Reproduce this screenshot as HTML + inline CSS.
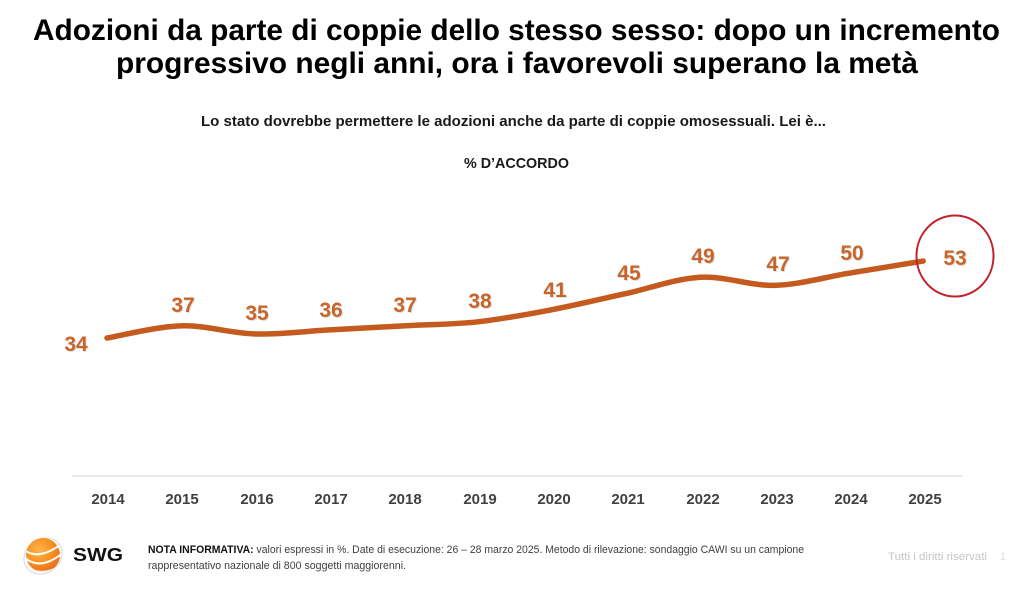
<!DOCTYPE html>
<html>
<head>
<meta charset="utf-8">
<style>
  html, body { margin:0; padding:0; background:#ffffff; }
  body { width:1024px; height:592px; overflow:hidden; }
  svg { display:block; }
  text { font-family: "Liberation Sans", Arial, sans-serif; }
</style>
</head>
<body>
<svg width="1024" height="592" viewBox="0 0 1024 592" xmlns="http://www.w3.org/2000/svg">
  <defs>
    <radialGradient id="orb" cx="0.38" cy="0.35" r="0.75">
      <stop offset="0" stop-color="#FDB44B"/>
      <stop offset="0.55" stop-color="#F7901E"/>
      <stop offset="1" stop-color="#E4641A"/>
    </radialGradient>
    <clipPath id="orbclip"><circle cx="43" cy="555" r="17"/></clipPath>
  </defs>

  <!-- Title -->
  <text x="33" y="40" font-size="30" font-weight="bold" fill="#000" textLength="967" lengthAdjust="spacingAndGlyphs">Adozioni da parte di coppie dello stesso sesso: dopo un incremento</text>
  <text x="116" y="73" font-size="30" font-weight="bold" fill="#000" textLength="802" lengthAdjust="spacingAndGlyphs">progressivo negli anni, ora i favorevoli superano la metà</text>

  <!-- Subtitle -->
  <text x="201" y="126" font-size="15" font-weight="bold" fill="#1a1a1a" textLength="625" lengthAdjust="spacingAndGlyphs">Lo stato dovrebbe permettere le adozioni anche da parte di coppie omosessuali. Lei è...</text>
  <text x="464" y="168" font-size="15" font-weight="bold" fill="#1a1a1a" textLength="105" lengthAdjust="spacingAndGlyphs">% D’ACCORDO</text>

  <!-- Axis line -->
  <line x1="72" y1="476" x2="963" y2="476" stroke="#dcdcdc" stroke-width="1.2"/>

  <!-- Year labels -->
  <g font-size="15" font-weight="bold" fill="#404040" text-anchor="middle">
    <text x="108" y="504">2014</text>
    <text x="182" y="504">2015</text>
    <text x="257" y="504">2016</text>
    <text x="331" y="504">2017</text>
    <text x="405" y="504">2018</text>
    <text x="480" y="504">2019</text>
    <text x="554" y="504">2020</text>
    <text x="628" y="504">2021</text>
    <text x="703" y="504">2022</text>
    <text x="777" y="504">2023</text>
    <text x="851" y="504">2024</text>
    <text x="925" y="504">2025</text>
  </g>

  <!-- Series line -->
  <path d="M107,338 C119.37,335.975 156.47,326.525 181.2,325.85 C205.93,325.175 230.67,333.275 255.4,333.95 C280.13,334.625 304.87,331.25 329.6,329.9 C354.33,328.55 379.07,327.2 403.8,325.85 C428.53,324.5 453.27,324.5 478,321.8 C502.73,319.1 527.47,314.375 552.2,309.65 C576.93,304.925 601.67,298.85 626.4,293.45 C651.13,288.05 675.87,278.6 700.6,277.25 C725.33,275.9 750.07,286.025 774.8,285.35 C799.53,284.675 824.27,277.25 849,273.2 C873.73,269.15 910.83,263.075 923.2,261.05"
        fill="none" stroke="#C55A1E" stroke-width="5.5" stroke-linecap="round" stroke-linejoin="round"/>

  <!-- Data labels (shadow) -->
  <g font-size="21" font-weight="bold" fill="#c9c9c9" text-anchor="middle" opacity="0.6">
    <text x="77" y="352">34</text>
    <text x="184" y="313">37</text>
    <text x="258" y="321">35</text>
    <text x="332" y="318">36</text>
    <text x="406" y="313">37</text>
    <text x="481" y="309">38</text>
    <text x="556" y="298">41</text>
    <text x="630" y="281">45</text>
    <text x="704" y="264">49</text>
    <text x="779" y="272">47</text>
    <text x="853" y="261">50</text>
    <text x="956" y="266">53</text>
  </g>
  <g font-size="21" font-weight="bold" fill="#C8652A" text-anchor="middle">
    <text x="76" y="351">34</text>
    <text x="183" y="312">37</text>
    <text x="257" y="320">35</text>
    <text x="331" y="317">36</text>
    <text x="405" y="312">37</text>
    <text x="480" y="308">38</text>
    <text x="555" y="297">41</text>
    <text x="629" y="280">45</text>
    <text x="703" y="263">49</text>
    <text x="778" y="271">47</text>
    <text x="852" y="260">50</text>
    <text x="955" y="265">53</text>
  </g>

  <!-- Highlight circle -->
  <ellipse cx="955" cy="256" rx="38.5" ry="40.5" fill="none" stroke="#C0222C" stroke-width="2"/>

  <!-- Logo -->
  <ellipse cx="43" cy="556" rx="20" ry="17" fill="none" stroke="#d8d8d8" stroke-width="1" transform="rotate(-35 43 556)"/>
  <circle cx="43" cy="555" r="17" fill="url(#orb)"/>
  <g clip-path="url(#orbclip)" fill="none" stroke="#ffffff" stroke-width="2" opacity="0.95">
    <path d="M22,548 Q36,562 60,545"/>
    <path d="M24,557 Q40,572 64,552"/>
    <path d="M26,566 Q44,580 66,561"/>
  </g>
  <text x="73" y="561" font-size="18" font-weight="bold" fill="#111" textLength="50" lengthAdjust="spacingAndGlyphs">SWG</text>

  <!-- Footer note -->
  <text x="148" y="553" font-size="11" fill="#404040" textLength="656" lengthAdjust="spacingAndGlyphs"><tspan font-weight="bold" fill="#111">NOTA INFORMATIVA:</tspan> valori espressi in %. Date di esecuzione: 26 – 28 marzo 2025. Metodo di rilevazione: sondaggio CAWI su un campione</text>
  <text x="148" y="569" font-size="11" fill="#404040" textLength="258" lengthAdjust="spacingAndGlyphs">rappresentativo nazionale di 800 soggetti maggiorenni.</text>

  <text x="888" y="560" font-size="11" fill="#c4c4c4" textLength="99" lengthAdjust="spacingAndGlyphs">Tutti i diritti riservati</text>
  <text x="1000" y="560" font-size="11" fill="#e0e0e0">1</text>
</svg>
</body>
</html>
